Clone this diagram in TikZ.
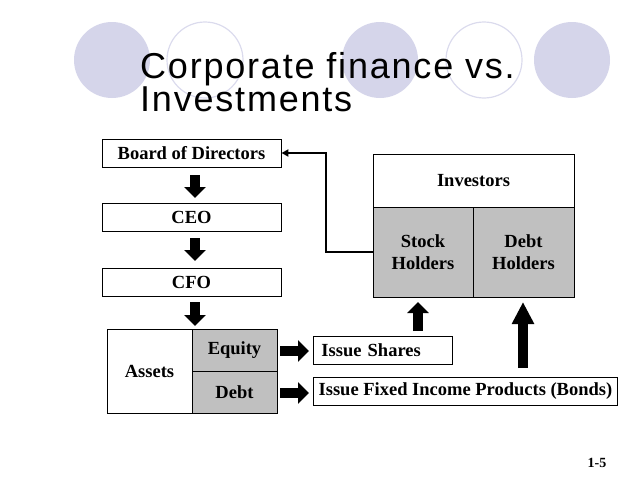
\documentclass[tikz,border=0pt]{standalone}
\usepackage{fontspec}
\setmainfont{Liberation Serif}
\newfontfamily\titlefont[LetterSpace=5]{Liberation Sans}
\usetikzlibrary{arrows.meta}
\definecolor{lav}{HTML}{D5D5EA}
\definecolor{cellgray}{HTML}{C0C0C0}
\tikzset{
  circfill/.style={fill=lav, draw=none},
  circline/.style={draw=lav!85!white, line width=1.2pt, fill=none},
  titletext/.style={anchor=base west, inner sep=0pt, font=\titlefont\fontsize{36}{40}\selectfont},
  boxtext/.style={font=\bfseries\fontsize{18.5}{22}\selectfont},
  cell/.style={draw=black, line width=0.9pt, boxtext, inner sep=0pt, align=center},
  graycell/.style={cell, fill=cellgray},
  blockarrow/.style={line width=10pt, -{Triangle[length=11pt,width=21pt]}},
  tallarrow/.style={line width=10pt, -{Triangle[length=22pt,width=21pt]}},
  linkarrow/.style={line width=2.2pt, -{Triangle[length=7pt,width=7pt]}}
}
\begin{document}
\begin{tikzpicture}[x=1pt,y=-1pt]
\useasboundingbox (0,0) rectangle (638,479);
% decorative circles
\fill[circfill] (112,60) circle (38);
\draw[circline] (205,60) circle (38);
\fill[circfill] (380,60) circle (38);
\draw[circline] (484,60) circle (38);
\fill[circfill] (572,60) circle (38);
% title
\node[titletext] (title1) at (140,78) {Corporate finance vs.};
\node[titletext] (title2) at (140,111) {Investments};
% left chain
\node[cell, minimum width=179, minimum height=28] (board) at (191.5,153) {Board of Directors};
\node[cell, minimum width=179, minimum height=28] (ceo) at (191.5,217) {CEO};
\node[cell, minimum width=179, minimum height=28] (cfo) at (191.5,282) {CFO};
\coordinate (a1s) at (195,175); \coordinate (a1e) at (195,198);
\coordinate (a2s) at (195,238); \coordinate (a2e) at (195,261);
\coordinate (a3s) at (195,302); \coordinate (a3e) at (195,326);
\draw[blockarrow] (a1s) -- (a1e);
\draw[blockarrow] (a2s) -- (a2e);
\draw[blockarrow] (a3s) -- (a3e);
% assets block
\node[cell, minimum width=85, minimum height=84] (assets) at (149.5,371) {Assets};
\node[graycell, minimum width=85, minimum height=42] (equity) at (234.5,350) {\raisebox{-2pt}{Equity}};
\node[graycell, minimum width=85, minimum height=42] (debt) at (234.5,392) {\raisebox{-2pt}{Debt}};
% issue boxes
\node[cell, minimum width=139, minimum height=28, anchor=west, align=left, inner xsep=8pt, text width=123] (shares) at (313,350) {Issue Shares};
\node[cell, minimum width=304, minimum height=28, anchor=west] (bonds) at (313,391) {Issue Fixed Income Products (Bonds)};
\draw[blockarrow] (280,351) -- (309,351);
\draw[blockarrow] (280,393) -- (309,393);
% investors block
\node[cell, minimum width=201, minimum height=53] (investors) at (473.5,180.5) {Investors};
\node[graycell, minimum width=100, minimum height=90] (stock) at (423,252) {Stock\\Holders};
\node[graycell, minimum width=101, minimum height=90] (debth) at (523.5,252) {Debt\\Holders};
% up arrows
\coordinate (u1s) at (418,331); \coordinate (u1e) at (418,302);
\coordinate (u2s) at (523,368); \coordinate (u2e) at (523,302);
\draw[blockarrow] (u1s) -- (u1e);
\draw[tallarrow] (u2s) -- (u2e);
% link back to board
\coordinate (bend) at (326,153);
\draw[linkarrow] (stock.west) -| (bend) -- (board.east);
% page number
\node[boxtext, font=\bfseries\fontsize{14}{16}\selectfont] (pagenum) at (597,463) {1-5};
\end{tikzpicture}
\end{document}
